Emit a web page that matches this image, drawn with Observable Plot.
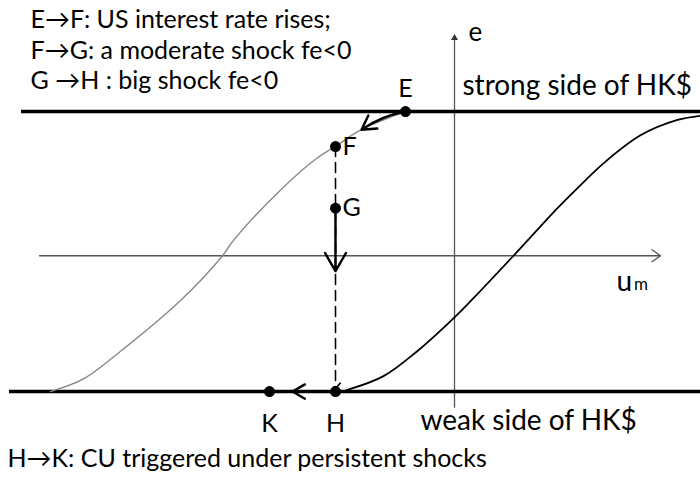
<!DOCTYPE html>
<html><head><meta charset="utf-8">
<script src="https://cdn.jsdelivr.net/npm/d3@7"></script>
<script src="https://cdn.jsdelivr.net/npm/@observablehq/plot@0.6"></script>
<style>body{margin:0;background:#fff} svg{display:block}</style>
</head><body><div id="chart"></div>
<script>
// Band edges of the exchange rate e (strong side = +1, weak side = -1)
const bandUpper = 1;
const bandLower = -1;
const axisLevel = -0.03;

// Left (grey) S-curve: u_m, e
const leftCurveU = [-4.04, -3.71, -3.37, -2.74, -2.32, -2.21, -1.71, -1.37, -1.19, -0.96, -0.64, -0.49];
const leftCurveE = [-1.00, -0.91, -0.73, -0.35, -0.03, 0.08, 0.46, 0.67, 0.75, 0.86, 0.96, 1.00];

// Right (black) S-curve
const rightCurveU = [-1.08, -0.71, -0.37, 0.00, 0.18, 0.59, 1.03, 1.24, 1.49, 1.86, 2.23, 2.46];
const rightCurveE = [-0.99, -0.89, -0.71, -0.47, -0.34, -0.03, 0.31, 0.46, 0.63, 0.83, 0.94, 0.97];

// Named points
const pointNames = ["E", "F", "G", "H", "K"];
const pointU = [-0.49, -1.19, -1.19, -1.19, -1.85];
const pointE = [1.00, 0.75, 0.31, -1.00, -1.00];

// Texts
const notes = ["E\u2192F: US interest rate rises;", "F\u2192G: a moderate shock fe<0", "G \u2192H : big shock fe<0"];
const noteE = [1.652, 1.433, 1.219];
const caption = "H\u2192K: CU triggered under persistent shocks";
const strongLabel = "strong side of HK$";
const weakLabel = "weak side of HK$";

const leftCurve = leftCurveU.map((u, i) => ({u, e: leftCurveE[i]}));
const rightCurve = rightCurveU.map((u, i) => ({u, e: rightCurveE[i]}));
const points = pointNames.map((name, i) => ({name, u: pointU[i], e: pointE[i]}));
const P = Object.fromEntries(points.map(p => [p.name, p]));

const family = "Lato";
const font = "Lato, 'Open Sans', sans-serif";

// font size that makes a text span a given pixel width
const ctx = document.createElement("canvas").getContext("2d");
function fitSize(text, width) {
  ctx.font = `100px ${family}`;
  return 100 * width / ctx.measureText(text).width;
}
const noteSize = Math.min(25, (fitSize(notes[0], 344) + fitSize(notes[1], 369) + fitSize(notes[2], 278)) / 3);
const captionSize = fitSize(caption, 480);
const strongSize = fitSize(strongLabel, 230);
const weakSize = fitSize(weakLabel, 217);
const pointSize = 25;

const chart = Plot.plot({
  width: 700,
  height: 485,
  margin: 0,
  x: {domain: [-4.54, 2.46], axis: null},
  y: {domain: [-1.671, 1.793], axis: null},
  style: {fontFamily: font, background: "#fff"},
  marks: [
    // axes
    Plot.arrow([{x1: -4.15, x2: 2.06, y: axisLevel}], {x1: "x1", x2: "x2", y1: "y", y2: "y", stroke: "#555", strokeWidth: 1.3, headLength: 12, headAngle: 70}),
    Plot.ruleX([0], {y1: -1.12, y2: 1.52, stroke: "#555", strokeWidth: 1.3}),
    Plot.dot([{u: 0, e: 1.525}], {x: "u", y: "e", symbol: "triangle", r: 2.6, fill: "#333"}),
    // band lines
    Plot.ruleY([bandUpper], {x1: -4.33, x2: 2.46, stroke: "#000", strokeWidth: 3.5}),
    Plot.ruleY([bandLower], {x1: -4.45, x2: 2.46, stroke: "#000", strokeWidth: 3.5}),
    // curves
    Plot.line(leftCurve, {x: "u", y: "e", curve: "catmull-rom", stroke: "#888", strokeWidth: 1.4}),
    Plot.line(rightCurve, {x: "u", y: "e", curve: "catmull-rom", stroke: "#000", strokeWidth: 1.8}),
    // dashed F -> H
    Plot.arrow([{u: P.F.u, e1: P.F.e, e2: P.H.e + 0.02}], {x: "u", y1: "e1", y2: "e2", stroke: "#000", strokeWidth: 1.6, strokeDasharray: "10,6", headLength: 7, headAngle: 80}),
    // G -> down arrow
    Plot.arrow([{u: P.G.u, e1: P.G.e, e2: -0.14}], {x: "u", y1: "e1", y2: "e2", stroke: "#000", strokeWidth: 2.4, headLength: 17, headAngle: 60}),
    // E -> F arrow along curve
    Plot.arrow([{u1: P.E.u, e1: P.E.e, u2: -0.93, e2: 0.87}], {x1: "u1", y1: "e1", x2: "u2", y2: "e2", bend: -12, stroke: "#000", strokeWidth: 2.4, headLength: 15, headAngle: 60}),
    // H -> K arrow
    Plot.arrow([{u1: P.H.u, u2: -1.62, e: bandLower}], {x1: "u1", x2: "u2", y1: "e", y2: "e", stroke: "#000", strokeWidth: 2.4, headLength: 17, headAngle: 60}),
    // dots
    Plot.dot(points, {x: "u", y: "e", r: 5.5, fill: "#000"}),
    // point labels
    Plot.text(points.filter(p => p.name === "E"), {x: "u", y: "e", text: "name", dy: -23, fontSize: pointSize, fill: "#000"}),
    Plot.text(points.filter(p => p.name === "F" || p.name === "G"), {x: "u", y: "e", text: "name", dx: 7, textAnchor: "start", fontSize: pointSize, fill: "#000"}),
    Plot.text(points.filter(p => p.name === "H" || p.name === "K"), {x: "u", y: "e", text: "name", dy: 32, fontSize: pointSize, fill: "#000"}),
    // axis labels
    Plot.text(["e"], {x: 0.14, y: 1.56, text: d => d, textAnchor: "start", fontSize: 26, fill: "#000"}),
    Plot.text(["u"], {x: 1.62, y: -0.22, text: d => d, textAnchor: "start", fontSize: 28, fill: "#000"}),
    Plot.text(["m"], {x: 1.795, y: -0.235, text: d => d, textAnchor: "start", fontSize: 17, fill: "#000"}),
    // side labels
    Plot.text([strongLabel], {x: 0.08, y: 1.18, text: d => d, textAnchor: "start", fontSize: strongSize, fill: "#000"}),
    Plot.text([weakLabel], {x: -0.34, y: -1.21, text: d => d, textAnchor: "start", fontSize: weakSize, fill: "#000"}),
    // notes
    Plot.text(notes, {x: -4.24, y: (d, i) => noteE[i], text: d => d, textAnchor: "start", fontSize: noteSize, fill: "#000"}),
    Plot.text([caption], {x: -4.47, y: -1.48, text: d => d, textAnchor: "start", fontSize: captionSize, fill: "#000"})
  ]
});
document.getElementById("chart").appendChild(chart);
</script>
</body></html>
